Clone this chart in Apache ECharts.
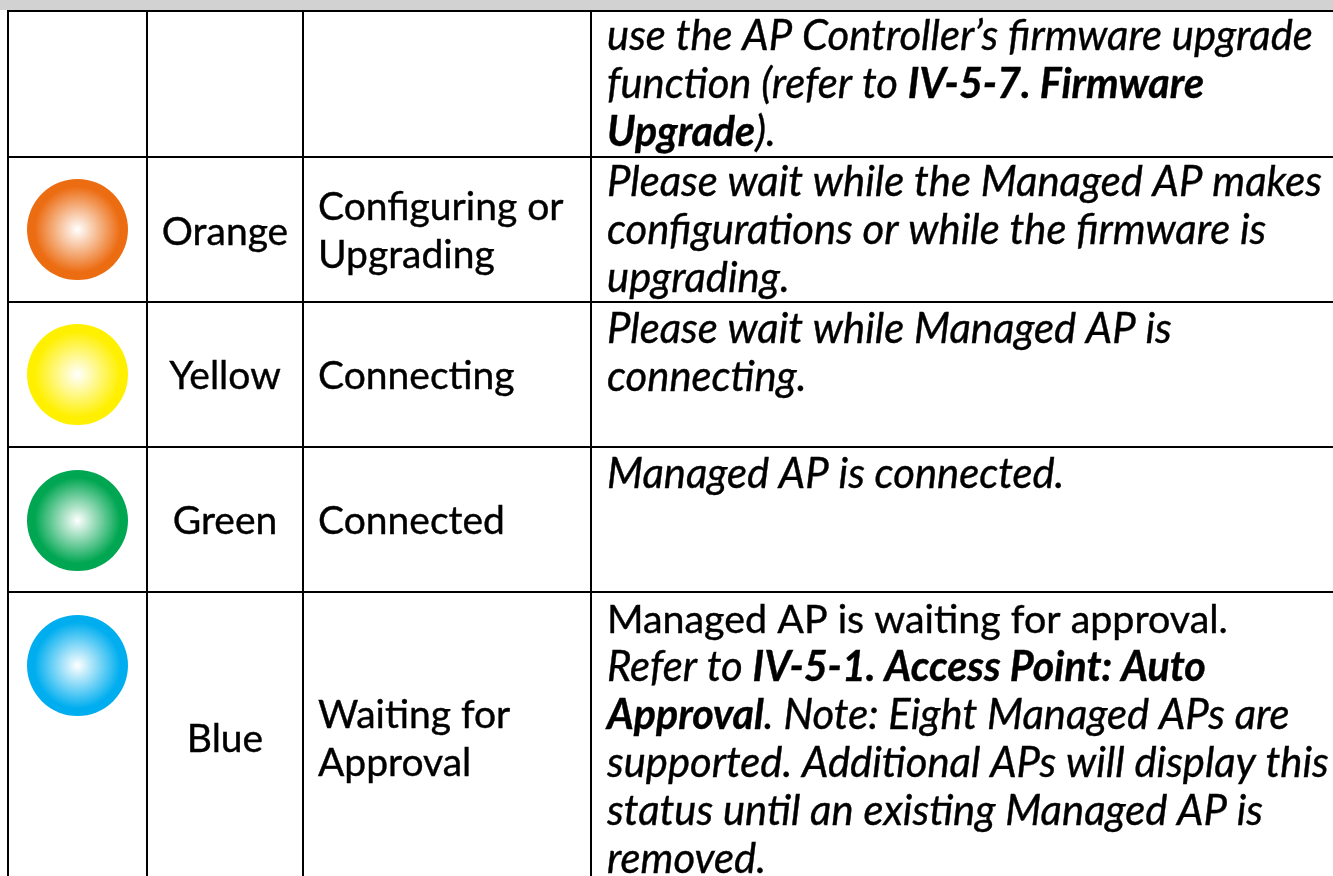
<!DOCTYPE html>
<html>
<head>
<meta charset="utf-8">
<title>Managed AP LED status</title>
<script src="https://cdn.jsdelivr.net/npm/echarts@6/dist/echarts.min.js"></script>
<style>
  html, body { margin: 0; padding: 0; background: #fff; }
  #chart { width: 1333px; height: 876px; }
</style>
</head>
<body>
<div id="chart"></div>
<script>
// table content
var lightNames = ['', 'Orange', 'Yellow', 'Green', 'Blue'];
var lightColors = ['', '#ec6c12', '#fff000', '#00a651', '#00aeef'];
var statusLines = [
  [],
  ['Configuring or', 'Upgrading'],
  ['Connecting'],
  ['Connected'],
  ['Waiting for', 'Approval']
];
var descriptionLines = [
  ['{i|use the AP Controller\u2019s firmware upgrade}',
   '{i|function (refer to }{b|IV-5-7. Firmware}',
   '{b|Upgrade}{i|).}'],
  ['{i|Please wait while the Managed AP makes}',
   '{i|configurations or while the firmware is}',
   '{i|upgrading.}'],
  ['{i|Please wait while Managed AP is}',
   '{i|connecting.}'],
  ['{i|Managed AP is connected.}'],
  ['{n|Managed AP is waiting for approval.}',
   '{i|Refer to }{b|IV-5-1. Access Point: Auto}',
   '{b|Approval}{i|. Note: Eight Managed APs are}',
   '{i|supported. Additional APs will display this}',
   '{i|status until an existing Managed AP is}',
   '{i|removed.}']
];

// layout, in page pixels
var colEdges = [8, 147, 303, 591];
var rowEdges = [11, 157, 302, 447, 592];
var lightY = [0, 229.5, 374.5, 520.5, 665.5];
var nameY = [0, 232, 376, 521, 739];
var statusY = [0, 231, 376, 521, 739];
var descTop = [37, 183, 330, 475, 620];
var lineGap = 48;
var statusGap = 48;
var fontSize = 39;
var plainDescSize = 39.4;
var italicSize = 41.8;
var boldSize = 41.2;
var fontFamily = 'Lato';

var chart = echarts.init(document.getElementById('chart'), null, { renderer: 'canvas' });

var ruleData = [];
rowEdges.forEach(function (y) { ruleData.push([7, y, 1333, y]); });
colEdges.forEach(function (x) { ruleData.push([x, 10, x, 876]); });

var lightData = [];
var nameData = [];
var statusData = [];
var descData = [];
lightNames.forEach(function (name, r) {
  if (name) {
    lightData.push({
      value: [77.5, lightY[r]],
      itemStyle: {
        opacity: 1,
        color: {
          type: 'radial', x: 0.5, y: 0.5, r: 0.5,
          colorStops: [
            { offset: 0, color: '#ffffff' },
            { offset: 0.85, color: lightColors[r] },
            { offset: 1, color: lightColors[r] }
          ]
        }
      }
    });
    nameData.push({ value: [225, nameY[r]], name: name });
  }
  statusLines[r].forEach(function (line, k) {
    var y = statusY[r] - (statusLines[r].length - 1) * statusGap / 2 + k * statusGap;
    statusData.push({ value: [318, y], name: line });
  });
  descriptionLines[r].forEach(function (line, k) {
    descData.push({ value: [607, descTop[r] + k * lineGap], name: line });
  });
});

function textSeries(data, position, rich) {
  return {
    type: 'scatter',
    data: data,
    symbolSize: 0,
    silent: true,
    clip: false,
    itemStyle: { opacity: 1 },
    label: {
      show: true,
      position: position,
      distance: 0,
      opacity: 1,
      formatter: function (p) { return p.name; },
      color: '#000',
      fontFamily: fontFamily,
      fontSize: fontSize,
      textBorderColor: '#000',
      textBorderWidth: 0.4,
      rich: rich
    }
  };
}

var richText = {
  n: { fontFamily: fontFamily, fontSize: plainDescSize, color: '#000', textBorderColor: '#000', textBorderWidth: 0.4 },
  i: { fontFamily: fontFamily, fontSize: italicSize, fontStyle: 'italic', color: '#000', textBorderColor: '#000', textBorderWidth: 0.4 },
  b: { fontFamily: fontFamily, fontSize: boldSize, fontStyle: 'italic', fontWeight: 'bold', color: '#000', textBorderColor: '#000', textBorderWidth: 0.4 }
};

chart.setOption({
  animation: false,
  backgroundColor: '#fff',
  grid: { left: 0, right: 0, top: 0, bottom: 0 },
  xAxis: { type: 'value', min: 0, max: 1333, show: false },
  yAxis: { type: 'value', min: 0, max: 876, inverse: true, show: false },
  series: [
    {
      type: 'custom',
      silent: true,
      clip: false,
      data: [[0, 0, 1333, 10]],
      renderItem: function (params, api) {
        var a = api.coord([api.value(0), api.value(1)]);
        var b = api.coord([api.value(2), api.value(3)]);
        return { type: 'rect', shape: { x: a[0], y: a[1], width: b[0] - a[0], height: b[1] - a[1] }, style: { fill: '#d2d2d2' } };
      }
    },
    {
      type: 'custom',
      silent: true,
      clip: false,
      data: ruleData,
      renderItem: function (params, api) {
        var a = api.coord([api.value(0), api.value(1)]);
        var b = api.coord([api.value(2), api.value(3)]);
        return { type: 'line', shape: { x1: a[0], y1: a[1], x2: b[0], y2: b[1] }, style: { stroke: '#000', lineWidth: 2 } };
      }
    },
    { type: 'scatter', silent: true, data: lightData, symbol: 'circle', symbolSize: 101 },
    textSeries(nameData, 'inside', {}),
    textSeries(statusData, 'right', {}),
    textSeries(descData, 'right', richText)
  ]
});
</script>
</body>
</html>
